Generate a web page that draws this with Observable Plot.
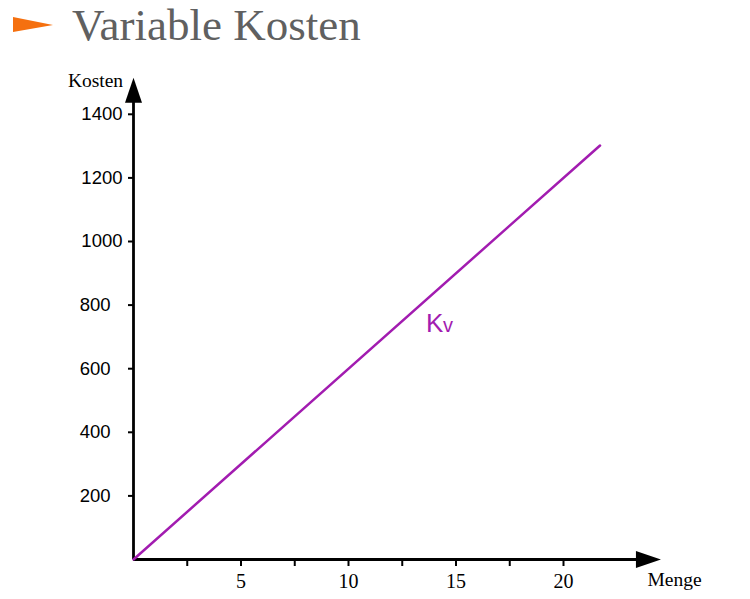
<!DOCTYPE html>
<html>
<head>
<meta charset="utf-8">
<script src="https://cdn.jsdelivr.net/npm/d3@7"></script>
<script src="https://cdn.jsdelivr.net/npm/@observablehq/plot@0.6"></script>
<style>
  html, body { margin: 0; padding: 0; background: #fff; }
  #wrap { position: relative; width: 750px; height: 599px; overflow: hidden; }
  #title { position: absolute; left: 0; top: 0; width: 750px; height: 60px; overflow: visible; }
  #chart svg { display: block; }
</style>
</head>
<body>
<div id="wrap">
  <div id="chart"></div>
  <svg id="title" width="750" height="60">
    <polygon points="13,17 53,25 13,32" fill="#f5700f"></polygon>
    <text x="72" y="40" font-family="Liberation Serif, serif" font-size="45" fill="#606060">Variable Kosten</text>
  </svg>
</div>
<script>
// ---- data ----
const menge = [0, 21.7];          // quantity
const kosten = [0, 1302];         // variable costs
const xTicks = [2.5, 5, 7.5, 10, 12.5, 15, 17.5, 20];
const xLabels = [5, 10, 15, 20];
const yTicksUpper = [1000, 1200, 1400];
const yTicksLower = [200, 400, 600, 800];
const seriesLabel = "K";
const seriesSub = "v";
const xAxisTitle = "Menge";
const yAxisTitle = "Kosten";

// ---- layout constants ----
const xAxisEnd = 23.4, xArrowAt = 23.95;
const yAxisEnd = 1437, yArrowAt = 1476;
const labelAt = {menge: 13.6, kosten: 714};
const purple = "#a21cb0";

const lineData = menge.map((m, i) => ({menge: m, kosten: kosten[i]}));

const arrowHead = {
  draw(ctx) {
    ctx.moveTo(0, -12.5);
    ctx.lineTo(8.5, 12.5);
    ctx.lineTo(-8.5, 12.5);
    ctx.closePath();
  }
};

const chart = Plot.plot({
  width: 750,
  height: 599,
  marginLeft: 133,
  marginRight: 101,
  marginTop: 82,
  marginBottom: 40,
  style: {background: "#fff", overflow: "visible", color: "#000"},
  x: {domain: [0, 24]},
  y: {domain: [0, 1500]},
  marks: [
    Plot.axisX({
      ticks: xTicks, tickSize: 7, tickPadding: 7, strokeWidth: 2,
      tickFormat: d => xLabels.includes(d) ? String(d) : "",
      fontFamily: "Liberation Serif, serif", fontSize: 20, fill: "#000", label: null
    }),
    Plot.axisY({
      ticks: yTicksUpper, tickSize: 5, tickPadding: 6, strokeWidth: 2,
      fontFamily: "Liberation Sans, Arial, sans-serif", fontSize: 18.5, fill: "#000",
      tickFormat: d => String(d), label: null
    }),
    Plot.axisY({
      ticks: yTicksLower, tickSize: 5, tickPadding: 18, strokeWidth: 2,
      fontFamily: "Liberation Sans, Arial, sans-serif", fontSize: 18.5, fill: "#000",
      tickFormat: d => String(d), label: null
    }),
    Plot.ruleY([0], {x1: 0, x2: xAxisEnd, stroke: "#000", strokeWidth: 2.8}),
    Plot.ruleX([0], {y1: 0, y2: yAxisEnd, stroke: "#000", strokeWidth: 2.8}),
    Plot.dot([{x: 0, y: yArrowAt}], {x: "x", y: "y", symbol: arrowHead, fill: "#000", stroke: "none"}),
    Plot.dot([{x: xArrowAt, y: 0}], {x: "x", y: "y", symbol: arrowHead, fill: "#000", stroke: "none", rotate: 90}),
    Plot.line(lineData, {x: "menge", y: "kosten", stroke: purple, strokeWidth: 2.5}),
    Plot.text([labelAt], {x: "menge", y: "kosten", text: () => seriesLabel, textAnchor: "start", lineAnchor: "bottom",
      fill: purple, fontSize: 26, fontFamily: "Liberation Sans, Arial, sans-serif"}),
    Plot.text([labelAt], {x: "menge", y: "kosten", text: () => seriesSub, textAnchor: "start", lineAnchor: "bottom", dx: 17,
      fill: purple, fontSize: 20, fontFamily: "Liberation Sans, Arial, sans-serif"}),
    Plot.text([yAxisTitle], {frameAnchor: "top-left", text: d => d, textAnchor: "middle", dx: -38, dy: -9,
      fontFamily: "Liberation Serif, serif", fontSize: 19.5, fill: "#000"}),
    Plot.text([xAxisTitle], {frameAnchor: "bottom-right", text: d => d, textAnchor: "middle", dx: 25, dy: 26,
      fontFamily: "Liberation Serif, serif", fontSize: 19.5, fill: "#000"})
  ]
});
document.getElementById("chart").appendChild(chart);
</script>
</body>
</html>
